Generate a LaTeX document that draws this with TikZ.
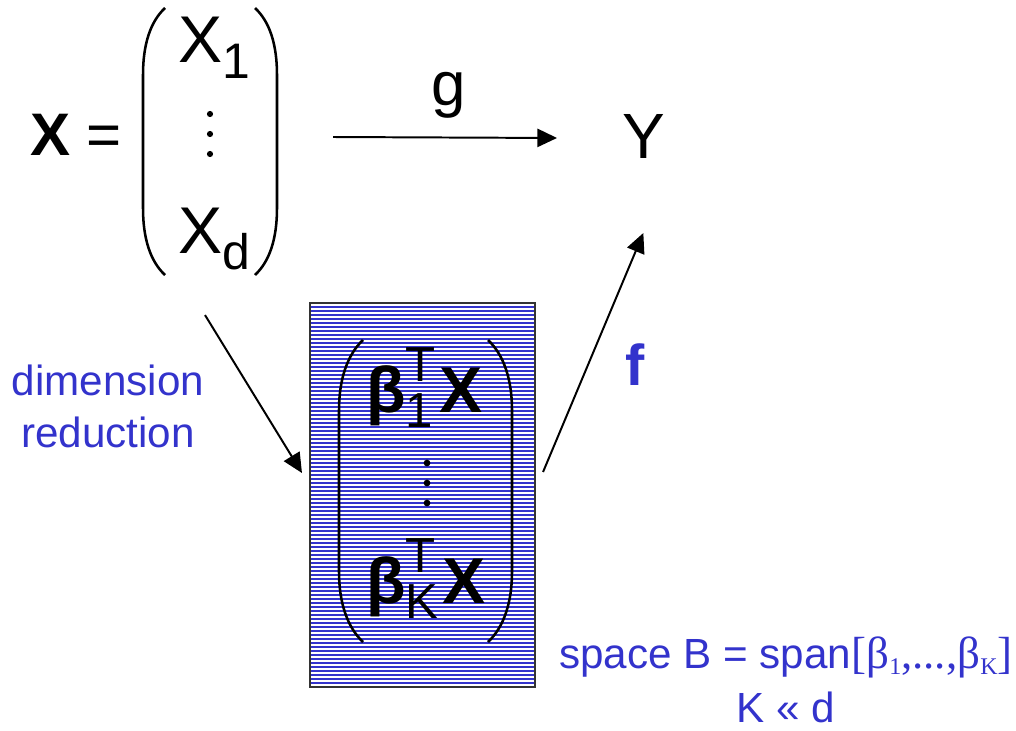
\documentclass[tikz,border=0pt]{standalone}
\usepackage{fontspec}
\setmainfont{Liberation Sans}
\newfontfamily\spanfont{Liberation Serif}
\usetikzlibrary{arrows.meta,positioning}
\definecolor{reductionblue}{RGB}{51,51,204}
\newcommand{\lowsub}[1]{\raisebox{-11.4pt}{\fontsize{35.5}{36}\selectfont #1}}
\newcommand{\supsub}[2]{{\fontsize{35}{35}\selectfont\mdseries\ooalign{\raisebox{22pt}{#1}\cr\raisebox{-10.7pt}{#2}\cr}}\kern3pt}
\newcommand{\tinysub}[1]{\raisebox{-4pt}{\fontsize{17}{17}\selectfont #1}}

\begin{document}
\begin{tikzpicture}[x=0.025cm, y=-0.025cm,
		every node/.style={inner sep=0pt, outer sep=0pt},
		bigtext/.style={font=\fontsize{47}{56}\selectfont},
		bluetext/.style={text=reductionblue, font=\fontsize{30}{37}\selectfont, align=center},
		arrow/.style={-{Triangle[length=14pt,width=13pt]}, line width=1.4pt},
		paren/.style={line width=1.8pt},
		hatched/.style={draw=black!80, line width=1pt, fill=reductionblue,
			minimum width=5.625cm, minimum height=9.6cm,
			path picture={\foreach \k in {0,...,97}
				\draw[white, line width=1pt] ([shift={(-5,\k*4+2)}]path picture bounding box.north west) -- ++(240,0);}}
	]
		\useasboundingbox (0,0) rectangle (1016,730);

		% the vector X
		\node[anchor=base west, font=\fontsize{42.7}{50}\selectfont] (lhs) at (30,155) {\textbf{X} =};
		\node[minimum width=3.4cm, minimum height=6.675cm] (vec) at (210,141.5) {};
		\node[bigtext, anchor=base west] (x1) at (178,62) {X\lowsub{1}};
		\node[bigtext, anchor=base west] (xd) at (178,253) {X\lowsub{d}};
		\foreach \yy in {114,134,154} \fill (210,\yy) circle[radius=2.2pt];
		\draw[paren] (165,8) .. controls (150,22) and (143,45) .. (143,75) -- (143,208) .. controls (143,238) and (150,261) .. (165,275);
		\draw[paren] (255,8) .. controls (270,22) and (277,45) .. (277,75) -- (277,208) .. controls (277,238) and (270,261) .. (255,275);

		% the response
		\node[anchor=base west, font=\fontsize{45.5}{54}\selectfont] (Y) at (622,158) {Y};
		\node[anchor=base, font=\fontsize{44}{52}\selectfont] (g) at (449,105) {g};

		% the reduced space
		\node[hatched] (box) at (422.5,495) {};
		\draw[paren] (363,340) .. controls (347,355) and (339,380) .. (339,410) -- (339,572) .. controls (339,602) and (347,627) .. (363,642);
		\draw[paren] (488,340) .. controls (504,355) and (512,380) .. (512,410) -- (512,572) .. controls (512,602) and (504,627) .. (488,642);
		\node[anchor=base west, font=\fontsize{46}{55}\selectfont\bfseries] (row1) at (366,412) {β\supsub{T}{1}X};
		\node[anchor=base west, font=\fontsize{46}{55}\selectfont\bfseries] (rowK) at (366,603) {β\supsub{T}{K}X};
		\foreach \yy in {463,483,503} \fill (427,\yy) circle[radius=2.4pt];

		% labels
		\node[bluetext] (dimred) at (108,406) {dimension\\reduction};
		\node[anchor=base, text=reductionblue, font=\fontsize{41}{48}\selectfont\bfseries] (f) at (635,385) {f};
		\node[bluetext, font=\fontsize{30}{38}\selectfont] (span) at (786,680) {space B = span{\spanfont\fontsize{32}{38}\selectfont[β\tinysub{1},...,β\tinysub{K}]}\\K « d};

		\draw[arrow] ([shift={(55,-4.5)}]vec.east) -- ([shift={(-65,2)}]Y.west);
		\draw[arrow] ([shift={(-5,40)}]vec.south) -- ([shift={(-8,-22)}]box.west);
		\draw[arrow] ([shift={(8,-23)}]box.east) -- ([shift={(0,75)}]Y.south);
	\end{tikzpicture}
\end{document}
